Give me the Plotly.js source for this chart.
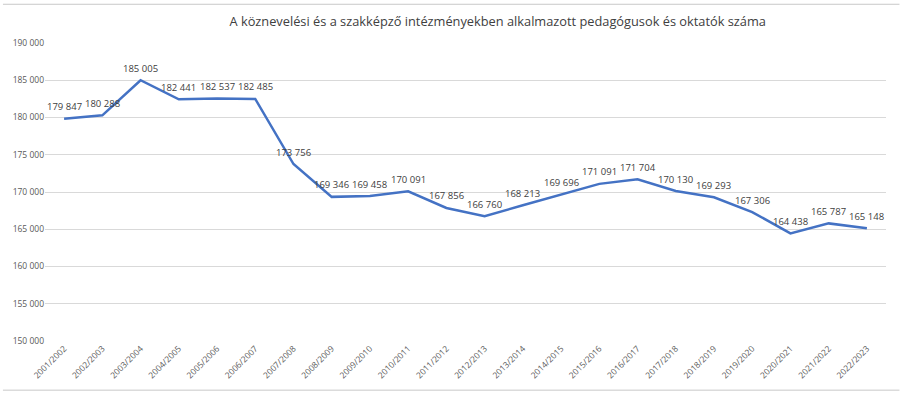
<!DOCTYPE html>
<html><head><meta charset="utf-8">
<script src="https://cdn.plot.ly/plotly-3.0.1.min.js"></script>
<style>html,body{margin:0;padding:0;background:#fff}#c{width:900px;height:394px}</style>
</head><body><div id="c"></div>
<script>
const categories = ["2001/2002","2002/2003","2003/2004","2004/2005","2005/2006","2006/2007","2007/2008","2008/2009","2009/2010","2010/2011","2011/2012","2012/2013","2013/2014","2014/2015","2015/2016","2016/2017","2017/2018","2018/2019","2019/2020","2020/2021","2021/2022","2022/2023"];
const values = [179847,180288,185005,182441,182537,182485,173756,169346,169458,170091,167856,166760,168213,169696,171091,171704,170130,169293,167306,164438,165787,165148];
const titleText = "A köznevelési és a szakképző intézményekben alkalmazott pedagógusok és oktatók száma";

function fmt(v){ return String(v).replace(/\B(?=(\d{3})+(?!\d))/g, ' '); }

const trace = {
  x: categories, y: values, type: 'scatter', mode: 'lines',
  line: {color: '#4472C4', width: 2.5},
  hoverinfo: 'skip'
};
const labels = categories.map((c, i) => ({
  x: c, y: values[i], xref: 'x', yref: 'y', text: fmt(values[i]), showarrow: false,
  yshift: 12, yanchor: 'middle', xanchor: 'center',
  font: {family: 'Open Sans, sans-serif', size: 9.5, color: '#404040'}
}));
const layout = {
  width: 900, height: 394, separators: ', ',
  margin: {l: 45, r: 14, t: 43, b: 53},
  paper_bgcolor: '#fff', plot_bgcolor: '#fff', showlegend: false,
  title: {text: titleText, x: 0.553, xanchor: 'center', y: 0.945, yanchor: 'middle',
    font: {family: 'Open Sans, sans-serif', size: 12.8, color: '#404040'}},
  xaxis: {type: 'category', range: [-0.5, 21.5], tickangle: -45, showgrid: false, zeroline: false, showline: false,
    ticks: '', tickfont: {family: 'Open Sans, sans-serif', size: 8.5, color: '#595959'}, fixedrange: true},
  yaxis: {range: [150000, 190000], dtick: 5000, tickformat: ',d', gridcolor: '#D9D9D9', gridwidth: 1,
    zeroline: false, showline: false, ticks: '', ticklen: 0,
    tickfont: {family: 'Open Sans, sans-serif', size: 8.5, color: '#595959'}, fixedrange: true},
  annotations: labels,
  shapes: [
    {type: 'line', xref: 'paper', yref: 'paper', x0: -0.05, x1: 1.016, y0: 1.13, y1: 1.13, line: {color: '#C8C8C8', width: 1}},
    {type: 'line', xref: 'paper', yref: 'paper', x0: -0.05, x1: 1.016, y0: -0.165, y1: -0.165, line: {color: '#C8C8C8', width: 1}}
  ]
};
Plotly.newPlot('c', [trace], layout, {displayModeBar: false, staticPlot: true});
</script></body></html>
